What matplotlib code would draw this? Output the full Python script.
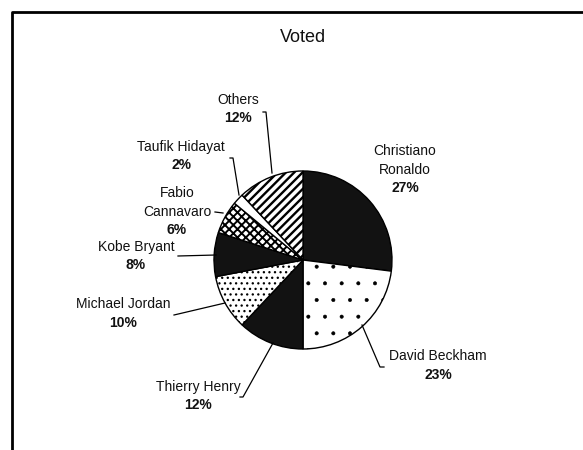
import matplotlib
matplotlib.use("Agg")
import matplotlib.pyplot as plt

# ---- data ----
names = ["Christiano\nRonaldo", "David Beckham", "Thierry Henry", "Michael Jordan",
         "Kobe Bryant", "Fabio\nCannavaro", "Taufik Hidayat", "Others"]
values = [27, 23, 12, 10, 8, 6, 2, 12]
title = "Voted"

# ---- styles / layout ----
faces = ["#121212", "white", "#121212", "white", "#121212", "white", "white", "white"]
hatches = [None, ".", None, "...", None, "xxxx", None, "////"]
hatch_lw = [None, 0.4, None, 0.9, None, 1.4, None, 1.7]
W, H = 583, 450
center_px = (303, 260)
radius_px = 89
# label anchor: x centre, y of the last (percentage) line, pixel coords, y down
label_px = [(405, 188), (438, 375), (198, 405), (123, 323), (136, 265),
            (177, 230), (181, 165), (238, 118)]
line_gap = 18.5
leaders_px = [None,
              [(362, 325), (380, 367), (384, 367)],
              [(273, 343), (243, 397), (240, 397)],
              [(225, 303), (174, 315)],
              [(216, 255), (178, 256)],
              [(223, 213), (215, 212)],
              [(239, 195), (233, 158), (230, 158)],
              [(272, 173), (266, 112), (263, 112)]]

plt.rcParams["font.family"] = ["Liberation Sans", "DejaVu Sans"]
plt.rcParams["hatch.linewidth"] = 1.6

fig = plt.figure(figsize=(W / 100, H / 100), dpi=100)
ax = fig.add_axes([0, 0, 1, 1])


def fy(y):
    return H - y


wedges, _ = ax.pie(values, startangle=90, counterclock=False,
                   center=(center_px[0], fy(center_px[1])), radius=radius_px,
                   colors=faces,
                   wedgeprops=dict(edgecolor="black", linewidth=1.0))
for w, h, lw in zip(wedges, hatches, hatch_lw):
    if h:
        w.set_hatch(h)
        if hasattr(w, "set_hatch_linewidth"):
            w.set_hatch_linewidth(lw)
        else:
            w._hatch_linewidth = lw

ax.set_xlim(0, W)
ax.set_ylim(0, H)
ax.set_aspect("auto")
ax.axis("off")

for name, v, (lx, ly) in zip(names, values, label_px):
    lines = name.split("\n")
    for i, ln in enumerate(lines):
        yy = ly - line_gap * (len(lines) - i)
        ax.text(lx, fy(yy), ln, ha="center", va="center",
                fontsize=10, color="#111111")
    ax.text(lx, fy(ly), f"{v}%", ha="center", va="center",
            fontsize=10, fontweight="bold", color="#111111")

for seg in leaders_px:
    if seg:
        ax.plot([p[0] for p in seg], [fy(p[1]) for p in seg], color="black", lw=0.9)

ax.text(303, fy(37), title, ha="center", va="center", fontsize=13, color="#111111")

# chart frame (top and left edges visible)
ax.plot([12, 12, W], [0, fy(12), fy(12)], color="black", lw=2)

fig.savefig("out.png", dpi=100)
